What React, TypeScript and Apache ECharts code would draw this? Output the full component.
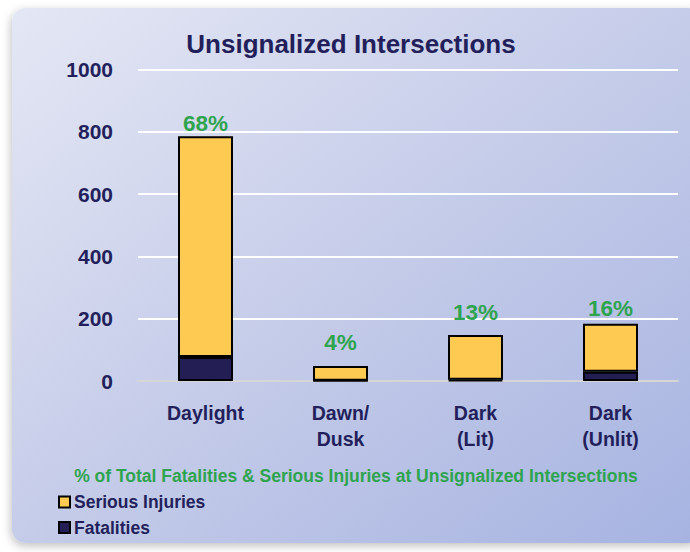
import React, { useEffect, useRef } from "react";
import * as echarts from "echarts";

const categories = ["Daylight", "Dawn/\nDusk", "Dark\n(Lit)", "Dark\n(Unlit)"];
const fatalities = [77, 1, 4, 30];
const seriousInjuries = [709, 47, 144, 154];
const percentLabels = ["68%", "4%", "13%", "16%"];
const yTicks = { min: 0, max: 1000, interval: 200 };

const titleText = "Unsignalized Intersections";
const subtitleText = "% of Total Fatalities & Serious Injuries at Unsignalized Intersections";

// label gaps above each bar (style only)
const pctLabelGap = [1, 12, 11, 4];

const FONT = '"Liberation Sans", Arial, Helvetica, sans-serif';
const NAVY = "#221f5b";
const GREEN = "#2ea44f";

export default function App() {
  const ref = useRef<HTMLDivElement>(null);
  useEffect(() => {
    if (!ref.current) return;
    const chart = echarts.init(ref.current, null, { renderer: "svg" });
    chart.setOption({
      animation: false,
      backgroundColor: "#ffffff",
      graphic: [
        {
          type: "rect",
          z: -100,
          shape: { x: 12, y: 8, width: 690, height: 535, r: 14 },
          style: {
            fill: new echarts.graphic.LinearGradient(0, 0, 1, 1, [
              { offset: 0, color: "#e4e7f4" },
              { offset: 0.5, color: "#c5cce9" },
              { offset: 1, color: "#a6b3e1" },
            ]),
            shadowBlur: 10,
            shadowOffsetX: -1,
            shadowOffsetY: 3,
            shadowColor: "rgba(0,0,0,0.25)",
          },
        },
      ],
      title: [
        {
          text: titleText,
          left: 351,
          top: 31,
          textAlign: "center",
          textStyle: { fontFamily: FONT, fontWeight: "bold", fontSize: 26, color: NAVY },
          padding: 0,
        },
        {
          text: subtitleText,
          left: 356,
          top: 467,
          textAlign: "center",
          textStyle: { fontFamily: FONT, fontWeight: "bold", fontSize: 17.5, color: GREEN },
          padding: 0,
        },
      ],
      legend: {
        orient: "vertical",
        left: 58,
        top: 493,
        itemWidth: 11,
        itemHeight: 11,
        itemGap: 7.5,
        icon: "rect",
        padding: 0,
        data: ["Serious Injuries", "Fatalities"],
        textStyle: { fontFamily: FONT, fontWeight: "bold", fontSize: 17.5, color: NAVY, padding: [0, 0, 0, -1] },
        itemStyle: { borderColor: "#000000", borderWidth: 2 },
      },
      grid: { left: 138, right: 12, top: 69.5, bottom: 171, containLabel: false },
      xAxis: {
        type: "category",
        data: categories,
        axisTick: { show: false },
        axisLine: { show: true, lineStyle: { color: "#d6d6d6", width: 2 } },
        axisLabel: {
          fontFamily: FONT,
          fontWeight: "bold",
          fontSize: 19.5,
          lineHeight: 26,
          color: NAVY,
          margin: 19,
          interval: 0,
        },
      },
      yAxis: {
        type: "value",
        min: yTicks.min,
        max: yTicks.max,
        interval: yTicks.interval,
        axisLine: { show: false },
        axisTick: { show: false },
        splitLine: { lineStyle: { color: "#ffffff", width: 2 } },
        axisLabel: {
          fontFamily: FONT,
          fontWeight: "bold",
          fontSize: 21,
          color: NAVY,
          margin: 25,
          formatter: (v: number) => String(v),
        },
      },
      series: [
        {
          name: "Fatalities",
          type: "bar",
          stack: "total",
          barWidth: 55,
          data: fatalities,
          itemStyle: { color: "#231f55", borderColor: "#000000", borderWidth: 2 },
        },
        {
          name: "Serious Injuries",
          type: "bar",
          stack: "total",
          barWidth: 55,
          data: seriousInjuries.map((v, i) => ({
            value: v,
            label: { distance: pctLabelGap[i] },
          })),
          itemStyle: { color: "#ffca52", borderColor: "#000000", borderWidth: 2 },
          label: {
            show: true,
            position: "top",
            formatter: (p: any) => percentLabels[p.dataIndex],
            fontFamily: FONT,
            fontWeight: "bold",
            fontSize: 22.5,
            color: GREEN,
          },
        },
      ],
    });
    return () => chart.dispose();
  }, []);
  return (
    <div
      ref={ref}
      style={{ position: "fixed", left: 0, top: 0, width: 690, height: 552 }}
    />
  );
}
